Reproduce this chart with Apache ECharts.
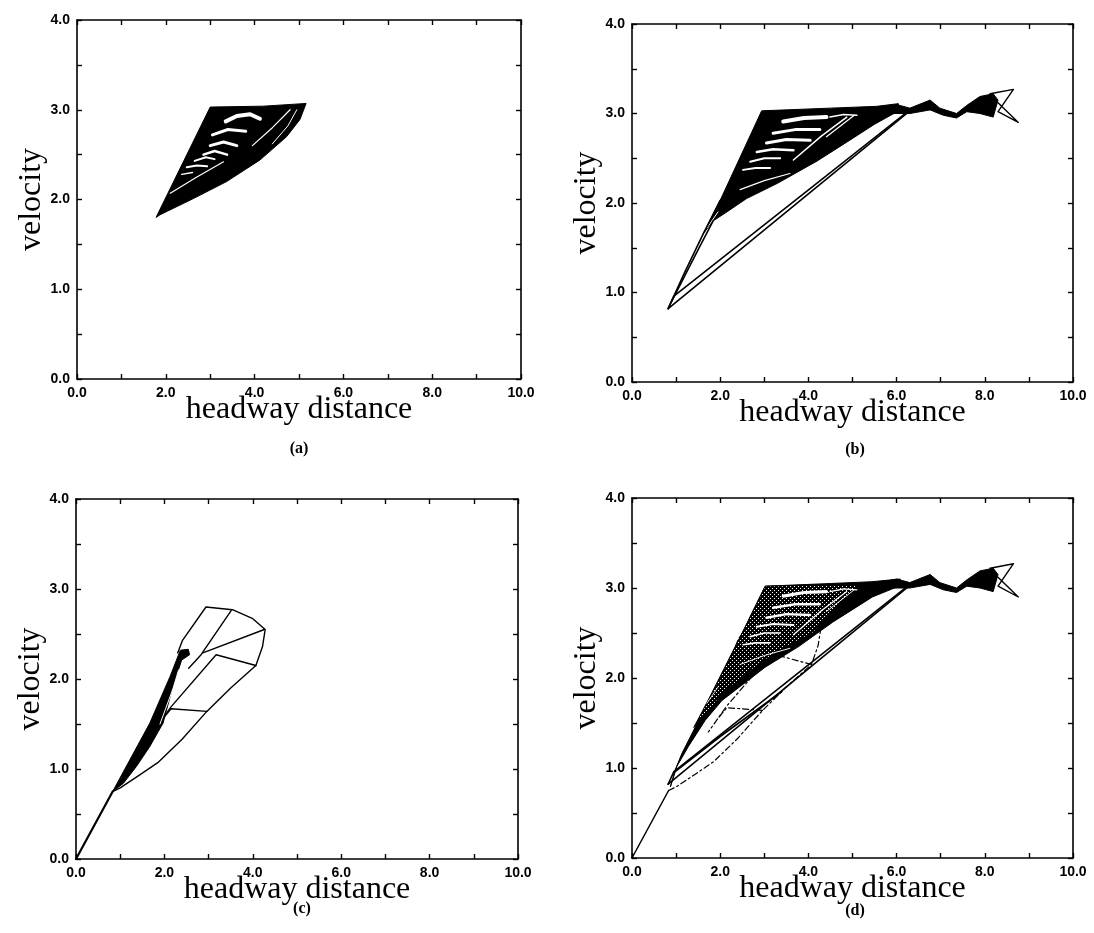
<!DOCTYPE html>
<html><head><meta charset="utf-8">
<script src="https://cdn.jsdelivr.net/npm/echarts@6/dist/echarts.min.js"></script>
<style>html,body{margin:0;padding:0;background:#fff}#c{width:1094px;height:933px}</style>
</head><body><div id="c"></div>
<script>
// ---- tick labels / axis ----
const xTicks = [0, 2, 4, 6, 8, 10];
const yTicks = [0, 1, 2, 3, 4];
const panelTags = ['(a)', '(b)', '(c)', '(d)'];

// ---- panel (a) ----
const aBlob = [[1.78,1.8],[3.0,3.03],[4.2,3.04],[5.16,3.07],[5.02,2.89],[4.72,2.7],[4.12,2.44],[3.37,2.2],[2.62,2.01],[1.87,1.83],[1.78,1.8]];
const aStreaks = [
  [[3.35,2.87],[3.6,2.93],[3.9,2.95],[4.12,2.9]],
  [[3.05,2.72],[3.4,2.78],[3.8,2.76]],
  [[3.0,2.6],[3.3,2.64],[3.6,2.6]],
  [[2.85,2.5],[3.1,2.54],[3.38,2.5]],
  [[2.65,2.43],[2.9,2.47],[3.1,2.45]],
  [[2.47,2.36],[2.7,2.38],[2.93,2.37]],
  [[2.36,2.28],[2.6,2.3]],
  [[2.1,2.07],[2.7,2.25],[3.3,2.42]],
  [[3.95,2.6],[4.4,2.8],[4.8,3.0]],
  [[4.4,2.62],[4.75,2.82],[4.95,3.0]]
];
const aStreakW = [4,3,3,2.5,2,2,1.5,1.2,1.2,1];

// ---- panel (b) ----
const bBlob = [[1.62,1.66],[2.0,2.03],[2.94,3.03],[4.5,3.06],[5.55,3.08],[6.04,3.11],[6.05,3.03],[5.5,2.88],[4.87,2.68],[4.2,2.47],[3.3,2.22],[2.6,2.05],[2.15,1.9],[1.84,1.8],[1.62,1.66]];
const bStreaks = [
  [[3.43,2.91],[3.9,2.95],[4.41,2.96]],
  [[3.2,2.78],[3.7,2.82],[4.26,2.82]],
  [[3.05,2.67],[3.5,2.71],[4.04,2.7]],
  [[2.83,2.57],[3.2,2.6],[3.66,2.59]],
  [[2.68,2.46],[3.0,2.5],[3.36,2.5]],
  [[2.52,2.37],[2.8,2.39],[3.13,2.39]],
  [[3.66,2.48],[4.3,2.75],[4.87,2.96]],
  [[2.45,2.15],[3.0,2.25],[3.58,2.33]],
  [[4.49,2.96],[4.8,2.99],[5.1,2.98]],
  [[5.04,2.98],[4.41,2.74]],
  [[1.7,1.72],[1.95,1.9]]
];
const bStreakW = [4,3,3,2.5,2,2,1.5,1.2,1.5,1.2,1];
const bWiggle = [[5.62,3.06],[6.0,3.1],[6.3,3.06],[6.76,3.15],[6.98,3.06],[7.36,3.0],[7.59,3.09],[7.89,3.19],[8.19,3.22],[8.3,3.15],[8.19,2.96],[7.89,3.0],[7.59,3.02],[7.36,2.95],[7.06,2.98],[6.76,3.04],[6.3,3.0],[5.92,3.0],[5.62,3.02]];
const bTail = [[8.12,3.22],[8.65,3.27],[8.3,3.02],[8.76,2.9],[8.3,3.12]];
const bLower1 = [[0.82,0.82],[6.3,3.03]];
const bLower2 = [[0.82,0.82],[0.95,0.96],[6.35,3.06]];
const bLeft1 = [[0.82,0.82],[1.2,1.23],[1.62,1.66],[2.0,2.03]];
const bLeft2 = [[0.9,0.9],[1.5,1.48],[1.84,1.8]];

// ---- panel (c) ----
const cStem = [[0,0],[0.83,0.75]];
const cOuter = [[0.83,0.75],[1.0,0.79],[1.4,0.92],[1.85,1.07],[2.4,1.33],[2.96,1.64],[3.5,1.9],[4.07,2.15],[4.22,2.36],[4.28,2.55],[4.0,2.67],[3.54,2.77],[2.94,2.8],[2.41,2.43],[2.3,2.29]];
const cInner1 = [[3.51,2.76],[2.83,2.27],[2.55,2.12]];
const cInner2 = [[4.26,2.55],[2.87,2.29]];
const cInner3 = [[4.07,2.15],[3.17,2.27],[2.15,1.69],[1.73,1.4]];
const cInner4 = [[2.96,1.64],[2.15,1.67],[1.95,1.55]];
const cBundle = [[0.83,0.75],[1.67,1.51],[2.13,2.03],[2.36,2.32],[2.54,2.33],[2.57,2.27],[2.39,2.21],[2.17,1.88],[1.97,1.51],[1.67,1.25],[1.37,1.03],[1.07,0.84],[0.83,0.75]];
const cGaps = [
  [[2.05,1.7],[2.2,1.9],[2.32,2.1]],
  [[1.9,1.5],[2.05,1.7]]
];

// ---- panel (d) ----
const dBlob = [[0.87,0.79],[0.98,0.98],[1.13,1.16],[1.44,1.46],[1.81,1.83],[2.19,2.2],[2.57,2.57],[3.02,3.02],[4.5,3.05],[5.44,3.07],[6.08,3.1],[6.1,3.03],[5.45,2.9],[4.55,2.62],[3.78,2.35],[3.02,2.12],[2.49,1.92],[2.04,1.75],[1.66,1.53],[1.28,1.24],[1.02,1.02],[0.87,0.79]];
const dStipple = [[3.02,3.02],[4.6,3.04],[5.1,3.03],[4.6,2.78],[4.1,2.5],[3.3,2.3],[2.6,2.05],[2.1,1.85],[1.7,1.62],[1.4,1.45],[1.81,1.83],[2.57,2.57]];
const dMid = [[0.95,0.95],[2.0,1.35],[3.4,1.85]];

// ---- layout ----
const grids = [
  {left:77, top:20, width:444, height:359},
  {left:632, top:24, width:441, height:358},
  {left:76, top:499, width:442, height:360},
  {left:632, top:498, width:441, height:360}
];
const tagPos = [[299,449],[855,450],[302,909],[855,911]];

const tickStyle = {show:true, inside:true, length:5, lineStyle:{color:'#000', width:1.4}};
const minorStyle = {show:true, splitNumber:2, length:5, lineStyle:{color:'#000', width:1.4}};
const lineStyleAx = {show:true, onZero:false, lineStyle:{color:'#000', width:1.6}};
const lblStyle = {fontFamily:'Liberation Sans', fontWeight:'bold', fontSize:14, color:'#000', formatter:v=>v.toFixed(1)};

const xAxis = [], yAxis = [];
for (let g=0; g<4; g++) {
  xAxis.push({type:'value', gridIndex:g, position:'bottom', min:xTicks[0], max:xTicks[xTicks.length-1], interval:xTicks[1]-xTicks[0],
    axisLine:lineStyleAx, axisTick:tickStyle, minorTick:minorStyle, splitLine:{show:false},
    axisLabel:Object.assign({margin:7}, lblStyle),
    name:'headway distance', nameLocation:'middle', nameGap:15, nameMoveOverlap:false,
    nameTextStyle:{fontFamily:'Liberation Serif', fontSize:32, color:'#000', verticalAlign:'top'}});
  yAxis.push({type:'value', gridIndex:g, position:'left', min:yTicks[0], max:yTicks[yTicks.length-1], interval:yTicks[1]-yTicks[0],
    axisLine:lineStyleAx, axisTick:tickStyle, minorTick:minorStyle, splitLine:{show:false},
    axisLabel:Object.assign({margin:7}, lblStyle),
    name:'velocity', nameLocation:'middle', nameGap:29, nameMoveOverlap:false,
    nameTextStyle:{fontFamily:'Liberation Serif', fontSize:32, color:'#000'}});
}
for (let g=0; g<4; g++) {
  xAxis.push({type:'value', gridIndex:g, position:'top', min:xTicks[0], max:xTicks[xTicks.length-1], interval:xTicks[1]-xTicks[0],
    axisLine:lineStyleAx, axisTick:tickStyle, minorTick:minorStyle, splitLine:{show:false}, axisLabel:{show:false}});
  yAxis.push({type:'value', gridIndex:g, position:'right', min:yTicks[0], max:yTicks[yTicks.length-1], interval:yTicks[1]-yTicks[0],
    axisLine:lineStyleAx, axisTick:tickStyle, minorTick:minorStyle, splitLine:{show:false}, axisLabel:{show:false}});
}

// stipple pattern (style only)
const pc = document.createElement('canvas'); pc.width = 4; pc.height = 4;
const pctx = pc.getContext('2d');
pctx.fillStyle = '#000'; pctx.fillRect(0,0,4,4);
pctx.fillStyle = '#fff'; pctx.fillRect(0,0,1,1); pctx.fillRect(2,2,1,1);
const stippleFill = {image: pc, repeat: 'repeat'};

function poly(g, pts, fill, z) {
  return {type:'custom', xAxisIndex:g, yAxisIndex:g, z:z, silent:true, animation:false, data:pts, encode:{x:0,y:1},
    renderItem:(params, api) => {
      if (params.dataIndex !== 0) return {type:'group', children:[]};
      return {type:'polygon', shape:{points: pts.map(p => api.coord(p))}, style:{fill:fill, stroke:'#000', lineWidth:1}};
    }};
}
function line(g, pts, color, width, type, z) {
  return {type:'line', xAxisIndex:g, yAxisIndex:g, data:pts, symbol:'none', showSymbol:false, silent:true, animation:false,
    lineStyle:{color:color, width:width, type:type||'solid', cap:'round', join:'round'}, z:z};
}

const series = [];
// (a)
series.push(poly(0, aBlob, '#000', 2));
aStreaks.forEach((s,i) => series.push(line(0, s, '#fff', aStreakW[i], 'solid', 4)));
// (b)
series.push(poly(1, bBlob, '#000', 2));
series.push(poly(1, bWiggle, '#000', 2));
bStreaks.forEach((s,i) => series.push(line(1, s, '#fff', bStreakW[i], 'solid', 4)));
[bLower1, bLower2, bLeft1, bLeft2].forEach(s => series.push(line(1, s, '#000', 1.6, 'solid', 5)));
series.push(line(1, bTail, '#000', 1.4, 'solid', 5));
// (c)
series.push(line(2, cStem, '#000', 2.2, 'solid', 5));
[cOuter, cInner1, cInner2, cInner3, cInner4].forEach(s => series.push(line(2, s, '#000', 1.4, 'solid', 5)));
series.push(poly(2, cBundle, '#000', 6));
cGaps.forEach(s => series.push(line(2, s, '#fff', 1, 'solid', 7)));
// (d)
series.push(line(3, cStem, '#000', 1.5, 'solid', 1));
[cOuter, cInner1, cInner2, cInner3, cInner4].forEach(s => series.push(line(3, s, '#000', 1.2, [6,3,2,3], 1)));
series.push(poly(3, dBlob, '#000', 2));
series.push(poly(3, bWiggle, '#000', 2));
series.push(poly(3, dStipple, stippleFill, 3));
bStreaks.forEach((s,i) => series.push(line(3, s, '#fff', bStreakW[i]*0.8, 'solid', 4)));
[bLower1, bLower2, dMid].forEach(s => series.push(line(3, s, '#000', 1.6, 'solid', 5)));
series.push(line(3, bTail, '#000', 1.4, 'solid', 5));

const graphic = panelTags.map((t,i) => ({type:'text', x:tagPos[i][0], y:tagPos[i][1],
  style:{text:t, fontFamily:'Liberation Serif', fontWeight:'bold', fontSize:16, fill:'#000', textAlign:'center', textVerticalAlign:'middle'}}));

const chart = echarts.init(document.getElementById('c'), null, {renderer:'canvas'});
chart.setOption({animation:false, backgroundColor:'#fff', grid:grids, xAxis:xAxis, yAxis:yAxis, series:series, graphic:graphic});
</script></body></html>
